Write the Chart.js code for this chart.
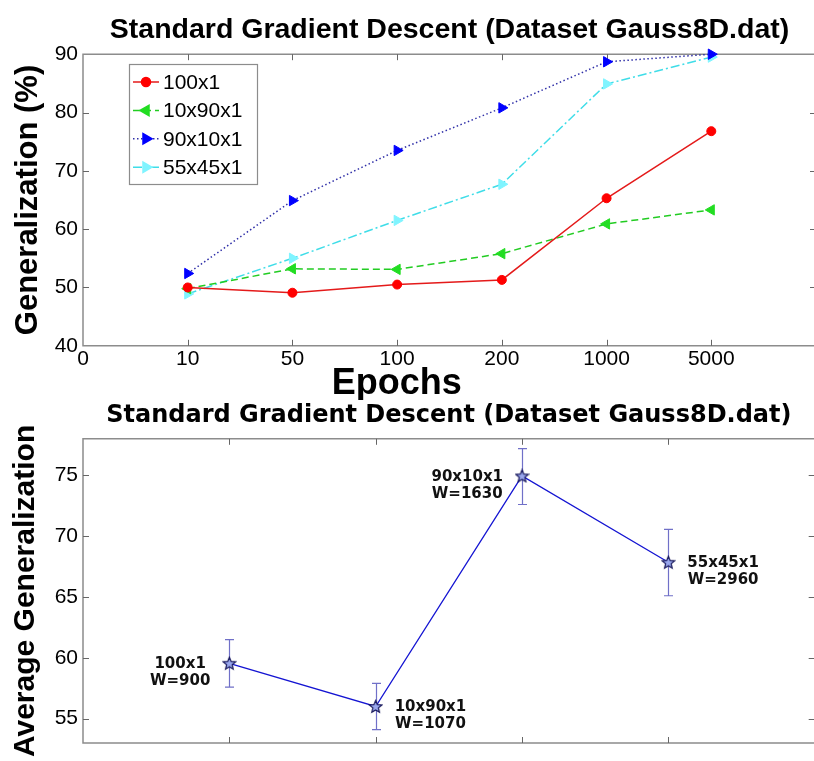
<!DOCTYPE html>
<html>
<head>
<meta charset="utf-8">
<script src="https://cdn.jsdelivr.net/npm/chart.js@4.4.1/dist/chart.umd.min.js"></script>
<style>
  html, body { margin: 0; padding: 0; background: #fff; }
  #wrap { position: relative; width: 814px; height: 761px; overflow: hidden; }
  #topBox { position: absolute; left: 0; top: 0; width: 823px; height: 400px; }
  #bottomBox { position: absolute; left: 0; top: 400px; width: 823px; height: 361px; }
</style>
</head>
<body>
<div id="wrap">
  <div id="topBox"><canvas id="epochChart" width="823" height="400"></canvas></div>
  <div id="bottomBox"><canvas id="avgChart" width="823" height="361"></canvas></div>
</div>
<script>
// ---- data ----
const epochTicks = ["0", "10", "50", "100", "200", "1000", "5000", ""];
const archNames = ["100x1", "10x90x1", "90x10x1", "55x45x1"];

const gen100x1   = [50.0, 49.1, 50.5, 51.3, 65.3, 76.8];
const gen10x90x1 = [49.8, 53.2, 53.1, 55.8, 60.9, 63.3];
const gen90x10x1 = [52.4, 64.9, 73.5, 80.8, 88.7, 90.0];
const gen55x45x1 = [48.9, 55.0, 61.5, 67.7, 84.9, 89.5];

const weightLabels = ["W=900", "W=1070", "W=1630", "W=2960"];
const avgGen  = [59.55, 56.0, 74.95, 67.85];
const avgLow  = [57.6, 54.1, 72.6, 65.1];
const avgHigh = [61.5, 57.9, 77.2, 70.55];

const SANS = "'Liberation Sans', Arial, sans-serif";
const WIDE = "'DejaVu Sans', Verdana, sans-serif";

// x position = index on the epoch axis (10 -> 1, 50 -> 2, ...)
function toPoints(arr) {
  return arr.map((v, i) => ({ x: i + 1, y: v }));
}

// matlab style box + inward ticks
const boxPlugin = {
  id: "matlabBox",
  beforeDatasetsDraw(chart) {
    const { ctx, chartArea: a, scales } = chart;
    ctx.save();
    ctx.strokeStyle = "#8c8c8c";
    ctx.lineWidth = 1.5;
    ctx.beginPath();
    ctx.moveTo(a.right + 2, a.top);
    ctx.lineTo(a.left, a.top);
    ctx.lineTo(a.left, a.bottom);
    ctx.lineTo(a.right + 2, a.bottom);
    ctx.stroke();

    ctx.strokeStyle = "#666";
    ctx.lineWidth = 1;
    const tl = 6;
    ctx.beginPath();
    scales.x.ticks.forEach(t => {
      const px = Math.round(scales.x.getPixelForValue(t.value)) + 0.5;
      if (px <= a.left + 2 || px >= a.right - 2) return;
      ctx.moveTo(px, a.bottom); ctx.lineTo(px, a.bottom - tl);
      ctx.moveTo(px, a.top); ctx.lineTo(px, a.top + tl);
    });
    scales.y.ticks.forEach(t => {
      const py = Math.round(scales.y.getPixelForValue(t.value)) + 0.5;
      if (py <= a.top + 2 || py >= a.bottom - 2) return;
      ctx.moveTo(a.left, py); ctx.lineTo(a.left + tl, py);
      ctx.moveTo(a.right, py); ctx.lineTo(a.right - tl, py);
    });
    ctx.stroke();
    ctx.restore();
  }
};

// ---- top chart ----
const topSeries = [
  { name: archNames[0], data: gen100x1,   line: "#e41a1a", fill: "#ff0000", dash: [],           style: "circle",   rot: 0,   r: 4.5 },
  { name: archNames[1], data: gen10x90x1, line: "#22cc22", fill: "#22dd22", dash: [7, 4],       style: "triangle", rot: -90, r: 6 },
  { name: archNames[2], data: gen90x10x1, line: "#3030a8", fill: "#0000ff", dash: [1.5, 2.5],   style: "triangle", rot: 90,  r: 6 },
  { name: archNames[3], data: gen55x45x1, line: "#3fdde8", fill: "#80f4ff", dash: [9, 3, 2, 3], style: "triangle", rot: 90,  r: 6 }
];

const legendPlugin = {
  id: "boxLegend",
  afterDraw(chart) {
    const { ctx } = chart;
    const x0 = 129, y0 = 64, w = 128, h = 120;
    ctx.save();
    ctx.fillStyle = "#fff";
    ctx.fillRect(x0, y0, w, h);
    ctx.strokeStyle = "#8c8c8c";
    ctx.lineWidth = 1.2;
    ctx.strokeRect(x0 + 0.5, y0 + 0.5, w, h);
    chart.data.datasets.forEach((ds, i) => {
      const y = y0 + 18 + i * 28.4;
      ctx.strokeStyle = ds.borderColor;
      ctx.lineWidth = 1.5;
      ctx.setLineDash(ds.borderDash || []);
      ctx.beginPath();
      ctx.moveTo(x0 + 4, y);
      ctx.lineTo(x0 + 30, y);
      ctx.stroke();
      ctx.setLineDash([]);
      ctx.fillStyle = ds.pointBackgroundColor;
      ctx.strokeStyle = ds.pointBorderColor;
      Chart.helpers.drawPoint(ctx, {
        pointStyle: ds.pointStyle, rotation: ds.pointRotation,
        radius: ds.pointRadius, borderWidth: 1
      }, x0 + 17, y);
      ctx.fillStyle = "#000";
      ctx.font = "21px " + SANS;
      ctx.textBaseline = "middle";
      ctx.textAlign = "left";
      ctx.fillText(ds.label, x0 + 34, y + 1);
    });
    ctx.restore();
  }
};

const epochTitlePlugin = {
  id: "epochTitle",
  afterDraw(chart) {
    const { ctx, chartArea: a } = chart;
    ctx.save();
    ctx.fillStyle = "#000";
    ctx.font = "bold 36px " + SANS;
    ctx.textAlign = "center";
    ctx.textBaseline = "middle";
    ctx.fillText("Epochs", a.left + (a.right - a.left) * 0.428, a.bottom + 38);
    ctx.restore();
  }
};

new Chart(document.getElementById("epochChart"), {
  type: "line",
  data: {
    datasets: topSeries.map(s => ({
      label: s.name,
      data: toPoints(s.data),
      borderColor: s.line,
      borderWidth: 1.5,
      borderDash: s.dash,
      pointStyle: s.style,
      pointRotation: s.rot,
      pointRadius: s.r,
      pointBackgroundColor: s.fill,
      pointBorderColor: s.fill,
      pointBorderWidth: 1,
      tension: 0,
      clip: false
    }))
  },
  options: {
    responsive: false,
    animation: false,
    events: [],
    layout: { padding: { left: 0, right: 0, top: 0, bottom: 27 } },
    plugins: {
      legend: { display: false },
      tooltip: { enabled: false },
      title: {
        display: true,
        fullSize: false,
        text: "Standard Gradient Descent (Dataset Gauss8D.dat)",
        color: "#000",
        font: { family: SANS, size: 28.5, weight: "bold" },
        padding: { top: 13, bottom: 7 }
      }
    },
    scales: {
      x: {
        type: "linear",
        min: 0, max: 7,
        grid: { display: false, drawTicks: false },
        border: { display: false },
        ticks: {
          stepSize: 1, autoSkip: false, maxRotation: 0, padding: 1,
          color: "#000", font: { family: SANS, size: 21 },
          callback: v => epochTicks[v] ?? ""
        }
      },
      y: {
        min: 40, max: 90,
        grid: { display: false, drawTicks: false },
        border: { display: false },
        ticks: { stepSize: 10, padding: 5, color: "#000", font: { family: SANS, size: 21 } },
        title: {
          display: true, text: "Generalization (%)", color: "#000",
          font: { family: SANS, size: 31, weight: "bold" },
          padding: { top: 10, bottom: 0 }
        },
        afterFit(s) { s.width = 83; }
      }
    }
  },
  plugins: [boxPlugin, legendPlugin, epochTitlePlugin]
});

// ---- bottom chart ----
function makeStar(size) {
  const c = document.createElement("canvas");
  c.width = size; c.height = size;
  const g = c.getContext("2d");
  const cx = size / 2, cy = size / 2 + 0.5, R = size / 2 - 1, r = R * 0.45;
  g.beginPath();
  for (let k = 0; k < 10; k++) {
    const ang = -Math.PI / 2 + k * Math.PI / 5;
    const rr = k % 2 ? r : R;
    g.lineTo(cx + rr * Math.cos(ang), cy + rr * Math.sin(ang));
  }
  g.closePath();
  g.fillStyle = "#9aa8ee";
  g.fill();
  g.strokeStyle = "#16165a";
  g.lineWidth = 1.2;
  g.stroke();
  return c;
}

const labelSide = [-1, 1, -1, 1];

const errorBarPlugin = {
  id: "errorBars",
  beforeDatasetsDraw(chart) {
    const { ctx, scales } = chart;
    const meta = chart.getDatasetMeta(0);
    ctx.save();
    ctx.strokeStyle = "#7070c8";
    ctx.lineWidth = 1.2;
    meta.data.forEach((p, i) => {
      const x = Math.round(p.x) + 0.5;
      const yl = scales.y.getPixelForValue(avgLow[i]);
      const yh = scales.y.getPixelForValue(avgHigh[i]);
      ctx.beginPath();
      ctx.moveTo(x, yl); ctx.lineTo(x, yh);
      ctx.moveTo(x - 4.5, yl); ctx.lineTo(x + 4.5, yl);
      ctx.moveTo(x - 4.5, yh); ctx.lineTo(x + 4.5, yh);
      ctx.stroke();
    });
    ctx.restore();
  },
  afterDraw(chart) {
    const { ctx } = chart;
    const meta = chart.getDatasetMeta(0);
    ctx.save();
    ctx.fillStyle = "#111";
    ctx.font = "bold 15px " + WIDE;
    ctx.textAlign = "center";
    ctx.textBaseline = "middle";
    meta.data.forEach((p, i) => {
      const lines = [archNames[i], weightLabels[i]];
      const w = Math.max(...lines.map(t => ctx.measureText(t).width));
      const cx = p.x + labelSide[i] * (19 + w / 2);
      ctx.fillText(lines[0], cx, p.y + 1);
      ctx.fillText(lines[1], cx, p.y + 18);
    });
    ctx.restore();
  }
};

new Chart(document.getElementById("avgChart"), {
  type: "line",
  data: {
    datasets: [{
      label: "Average Generalization",
      data: toPoints(avgGen),
      borderColor: "#1414d2",
      borderWidth: 1.3,
      pointStyle: makeStar(15),
      pointRadius: 7,
      tension: 0,
      clip: false
    }]
  },
  options: {
    responsive: false,
    animation: false,
    events: [],
    layout: { padding: { left: 0, right: 0, top: 0, bottom: 18 } },
    plugins: {
      legend: { display: false },
      tooltip: { enabled: false },
      title: {
        display: true,
        fullSize: false,
        text: "Standard Gradient Descent (Dataset Gauss8D.dat)",
        color: "#000",
        font: { family: WIDE, size: 24, weight: "bold" },
        padding: { top: 1, bottom: 9 }
      }
    },
    scales: {
      x: {
        type: "linear",
        min: 0, max: 5,
        grid: { display: false, drawTicks: false },
        border: { display: false },
        ticks: { stepSize: 1, display: false }
      },
      y: {
        min: 53, max: 78,
        grid: { display: false, drawTicks: false },
        border: { display: false },
        afterBuildTicks(s) { s.ticks = [55, 60, 65, 70, 75].map(v => ({ value: v })); },
        ticks: { padding: 5, color: "#000", font: { family: SANS, size: 21 } },
        title: {
          display: true, text: "Average Generalization", color: "#000",
          font: { family: SANS, size: 30, weight: "bold" },
          padding: { top: 8, bottom: 0 }
        },
        afterFit(s) { s.width = 83; }
      }
    }
  },
  plugins: [boxPlugin, errorBarPlugin]
});
</script>
</body>
</html>
